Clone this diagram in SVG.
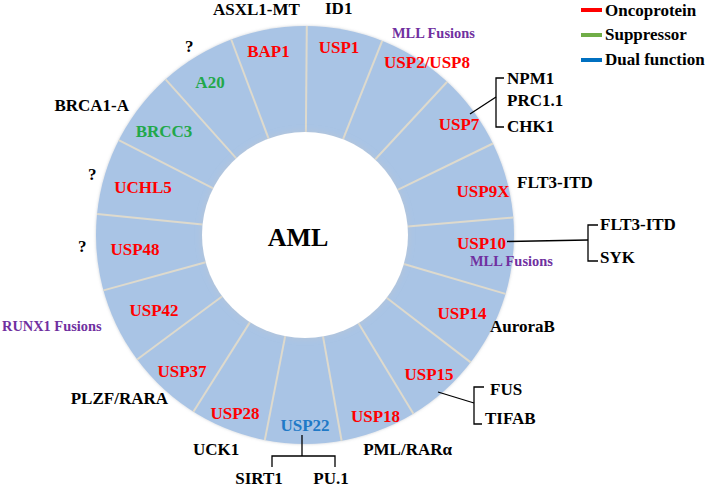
<svg xmlns="http://www.w3.org/2000/svg" width="709" height="488" viewBox="0 0 709 488">
<defs>
<style>
text{font-family:"Liberation Serif","Times New Roman",serif;font-weight:bold;}
.seg{font-size:17px;text-anchor:middle;}
.onc{fill:#FF0000;}
.sup{fill:#22A84A;}
.dual{fill:#2079C7;}
.tgt{font-size:17px;fill:#000;}
.fus{font-size:14.4px;fill:#7030A0;}
.q{font-size:17px;fill:#000;}
.leg{font-size:17px;fill:#000;}
.div{stroke:#DEDACD;stroke-width:2;}
.con{stroke:#000;stroke-width:1.3;fill:none;}
</style>
<filter id="glow" x="-10%" y="-10%" width="120%" height="120%">
<feGaussianBlur in="SourceAlpha" stdDeviation="2"/>
<feFlood flood-color="#8a95a3" flood-opacity="0.45"/>
<feComposite operator="in" in2="SourceAlpha"/>
<feGaussianBlur stdDeviation="1.5"/>
<feMerge><feMergeNode/><feMergeNode in="SourceGraphic"/></feMerge>
</filter>
<filter id="inner" x="-10%" y="-10%" width="120%" height="120%">
<feGaussianBlur in="SourceAlpha" stdDeviation="3"/>
<feColorMatrix type="matrix" values="0 0 0 0 0.55 0 0 0 0 0.57 0 0 0 0 0.6 0 0 0 0.6 0"/>
<feMerge><feMergeNode/><feMergeNode in="SourceGraphic"/></feMerge>
</filter>
</defs>
<rect width="709" height="488" fill="#FFFFFF"/>
<g id="ring">
<circle cx="305" cy="235" r="209" fill="#A9C4E5" filter="url(#glow)"/>
<g id="dividers">
<line class="div" x1="305.9" y1="132.0" x2="306.8" y2="26.0"/>
<line class="div" x1="343.0" y1="139.3" x2="382.2" y2="40.8"/>
<line class="div" x1="375.1" y1="159.5" x2="447.2" y2="81.8"/>
<line class="div" x1="397.6" y1="189.9" x2="492.9" y2="143.5"/>
<line class="div" x1="407.6" y1="226.4" x2="513.3" y2="217.5"/>
<line class="div" x1="403.8" y1="264.0" x2="505.5" y2="293.9"/>
<line class="div" x1="386.6" y1="297.8" x2="470.7" y2="362.4"/>
<line class="div" x1="358.4" y1="323.0" x2="413.4" y2="413.7"/>
<line class="div" x1="323.0" y1="336.4" x2="341.6" y2="440.8"/>
<line class="div" x1="285.2" y1="336.1" x2="264.8" y2="440.1"/>
<line class="div" x1="250.0" y1="322.1" x2="193.4" y2="411.7"/>
<line class="div" x1="222.3" y1="296.3" x2="137.1" y2="359.5"/>
<line class="div" x1="205.7" y1="262.3" x2="103.5" y2="290.4"/>
<line class="div" x1="202.5" y1="224.6" x2="97.1" y2="213.9"/>
<line class="div" x1="213.2" y1="188.3" x2="118.7" y2="140.2"/>
<line class="div" x1="236.3" y1="158.3" x2="165.6" y2="79.3"/>
<line class="div" x1="268.6" y1="138.6" x2="231.2" y2="39.5"/>
</g>
<circle cx="305" cy="235" r="103" fill="#FFFFFF" filter="url(#inner)"/>
</g>
<g id="center"><text x="298" y="246" style="font-size:26px;text-anchor:middle">AML</text></g>
<g id="connectors">
<line class="con" x1="470" y1="114" x2="496" y2="97"/>
<path class="con" d="M504,78 H496 V127 H504"/>
<line class="con" x1="507" y1="241.5" x2="588" y2="240"/>
<path class="con" d="M598,225 H588 V261 H598"/>
<line class="con" x1="438" y1="392" x2="474" y2="403"/>
<path class="con" d="M484,387 H474 V424 H482"/>
<line class="con" x1="302" y1="435" x2="302" y2="456"/>
<path class="con" d="M272,467 V456 H335 V467"/>
</g>
<g id="n-BAP1"><text class="seg onc" x="268.5" y="57">BAP1</text><text class="tgt" x="213" y="15">ASXL1-MT</text></g>
<g id="n-USP1"><text class="seg onc" x="339" y="53">USP1</text><text class="tgt" x="325" y="14">ID1</text></g>
<g id="n-USP2"><text class="seg onc" x="427" y="68">USP2/USP8</text><text class="fus" x="392" y="38">MLL Fusions</text></g>
<g id="n-USP7"><text class="seg onc" x="459" y="130">USP7</text><text class="tgt" x="507" y="84">NPM1</text><text class="tgt" x="507" y="106">PRC1.1</text><text class="tgt" x="507" y="132">CHK1</text></g>
<g id="n-USP9X"><text class="seg onc" x="483" y="197">USP9X</text><text class="tgt" x="517" y="188">FLT3-ITD</text></g>
<g id="n-USP10"><text class="seg onc" x="481.5" y="249">USP10</text><text class="fus" x="470" y="266">MLL Fusions</text><text class="tgt" x="600" y="230">FLT3-ITD</text><text class="tgt" x="600" y="263">SYK</text></g>
<g id="n-USP14"><text class="seg onc" x="462" y="319">USP14</text><text class="tgt" x="490" y="332">AuroraB</text></g>
<g id="n-USP15"><text class="seg onc" x="429" y="380">USP15</text><text class="tgt" x="490" y="395">FUS</text><text class="tgt" x="485" y="424">TIFAB</text></g>
<g id="n-USP18"><text class="seg onc" x="375.5" y="422">USP18</text><text class="tgt" x="452" y="455" style="text-anchor:end">PML/RARα</text></g>
<g id="n-USP22"><text class="seg dual" x="305" y="431">USP22</text><text class="tgt" x="259" y="484" style="text-anchor:middle">SIRT1</text><text class="tgt" x="331" y="484" style="text-anchor:middle">PU.1</text></g>
<g id="n-USP28"><text class="seg onc" x="235" y="419">USP28</text><text class="tgt" x="193" y="455">UCK1</text></g>
<g id="n-USP37"><text class="seg onc" x="182" y="377">USP37</text><text class="tgt" x="168" y="404" style="text-anchor:end">PLZF/RARA</text></g>
<g id="n-USP42"><text class="seg onc" x="154" y="316">USP42</text><text class="fus" x="2" y="331">RUNX1 Fusions</text></g>
<g id="n-USP48"><text class="seg onc" x="135" y="255">USP48</text><text class="q" x="78" y="252">?</text></g>
<g id="n-UCHL5"><text class="seg onc" x="143" y="193">UCHL5</text><text class="q" x="88" y="180">?</text></g>
<g id="n-BRCC3"><text class="seg sup" x="164" y="137">BRCC3</text><text class="tgt" x="129" y="111" style="text-anchor:end">BRCA1-A</text></g>
<g id="n-A20"><text class="seg sup" x="210" y="88">A20</text><text class="q" x="185" y="52">?</text></g>
<g id="legend">
<line x1="581" y1="10" x2="602" y2="10" stroke="#FF0000" stroke-width="4"/>
<text class="leg" x="605" y="16">Oncoprotein</text>
<line x1="581" y1="35" x2="602" y2="35" stroke="#70AD47" stroke-width="4"/>
<text class="leg" x="605" y="39.5">Suppressor</text>
<line x1="581" y1="60" x2="602" y2="60" stroke="#0070C0" stroke-width="4"/>
<text class="leg" x="605" y="64.5">Dual function</text>
</g>
</svg>
